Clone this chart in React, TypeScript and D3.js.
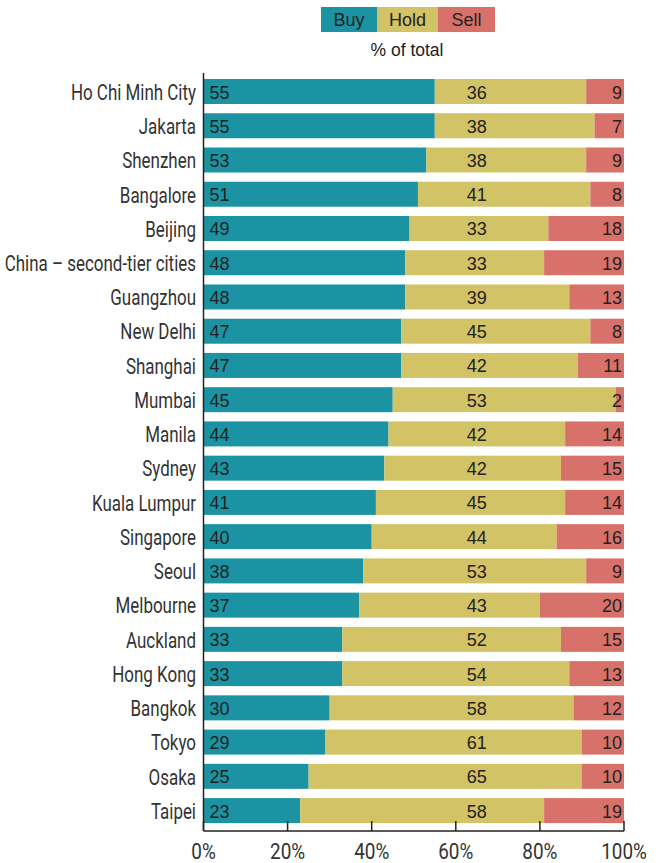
import React from "react";
import * as d3 from "d3";

const categories = [
  "Ho Chi Minh City", "Jakarta", "Shenzhen", "Bangalore", "Beijing",
  "China – second-tier cities", "Guangzhou", "New Delhi", "Shanghai", "Mumbai",
  "Manila", "Sydney", "Kuala Lumpur", "Singapore", "Seoul", "Melbourne",
  "Auckland", "Hong Kong", "Bangkok", "Tokyo", "Osaka", "Taipei",
];
const buy = [55, 55, 53, 51, 49, 48, 48, 47, 47, 45, 44, 43, 41, 40, 38, 37, 33, 33, 30, 29, 25, 23];
const hold = [36, 38, 38, 41, 33, 33, 39, 45, 42, 53, 42, 42, 45, 44, 53, 43, 52, 54, 58, 61, 65, 58];
const sell = [9, 7, 9, 8, 18, 19, 13, 8, 11, 2, 14, 15, 14, 16, 9, 20, 15, 13, 12, 10, 10, 19];
const seriesNames = ["Buy", "Hold", "Sell"];
const ticks = [0, 20, 40, 60, 80, 100];

const colors = ["#1b93a3", "#d2c366", "#d9716b"];
const condensed = "Roboto, sans-serif";
const sans = "'Liberation Sans', Arial, Helvetica, sans-serif";

export default function App() {
  const W = 661, H = 863;
  const x = d3.scaleLinear().domain([0, 100]).range([203.5, 624]);
  const y = d3.scaleBand().domain(categories).range([74.4, 827.7]).paddingInner(0.27).paddingOuter(0.135);
  const rows = categories.map((c, i) => ({ c, v: [buy[i], hold[i], sell[i]] }));
  const stack = d3.stack<any>().keys(["0", "1", "2"]).value((d: any, k: string) => d.v[+k])(rows as any);
  const axisY = 831;
  const legendX = [321, 377, 438, 495];

  return (
    <svg width={W} height={H} style={{ position: "absolute", left: 0, top: 0 }}>
      {/* legend */}
      {seriesNames.map((s, i) => (
        <g key={s}>
          <rect x={legendX[i]} y={7} width={legendX[i + 1] - legendX[i]} height={25} fill={colors[i]} />
          <text x={(legendX[i] + legendX[i + 1]) / 2} y={20} textAnchor="middle" dominantBaseline="central"
            fontFamily={sans} fontSize={18} fill="#222">{s}</text>
        </g>
      ))}
      <text x={407} y={50} textAnchor="middle" dominantBaseline="central" fontFamily={sans} fontSize={17.5} fill="#222">% of total</text>

      {/* bars */}
      {stack.map((layer, li) => (
        <g key={li}>
          {layer.map((d: any, i: number) => (
            <rect key={i} x={x(d[0])} y={y(categories[i])} width={x(d[1]) - x(d[0])} height={y.bandwidth()} fill={colors[li]} />
          ))}
        </g>
      ))}

      {/* value labels */}
      {rows.map((r, i) => {
        const cy = (y(r.c) as number) + y.bandwidth() / 2 + 1;
        return (
          <g key={r.c} fontFamily={sans} fontSize={18} fill="#222" dominantBaseline="central">
            <text x={x(0) + 6} y={cy} textAnchor="start">{r.v[0]}</text>
            <text x={x(65)} y={cy} textAnchor="middle">{r.v[1]}</text>
            <text x={x(100) - 2} y={cy} textAnchor="end">{r.v[2]}</text>
          </g>
        );
      })}

      {/* category labels */}
      {categories.map((c) => (
        <text key={c} transform={`translate(196,${(y(c) as number) + y.bandwidth() / 2 + 1}) scale(0.77,1)`}
          textAnchor="end" dominantBaseline="central"
          fontFamily={condensed} fontSize={22} fill="#333">{c}</text>
      ))}

      {/* axes */}
      <line x1={x(0)} x2={x(0)} y1={73} y2={axisY} stroke="#222" strokeWidth={1.5} />
      <line x1={x(0)} x2={x(100)} y1={axisY} y2={axisY} stroke="#222" strokeWidth={1.5} />
      {ticks.map((t) => (
        <g key={t}>
          <line x1={x(t)} x2={x(t)} y1={axisY - 10} y2={axisY} stroke="#222" strokeWidth={1.5} />
          <text transform={`translate(${x(t)},851) scale(0.86,1)`} textAnchor="middle" dominantBaseline="central"
            fontFamily={condensed} fontSize={22} fill="#333">{t}%</text>
        </g>
      ))}
    </svg>
  );
}
